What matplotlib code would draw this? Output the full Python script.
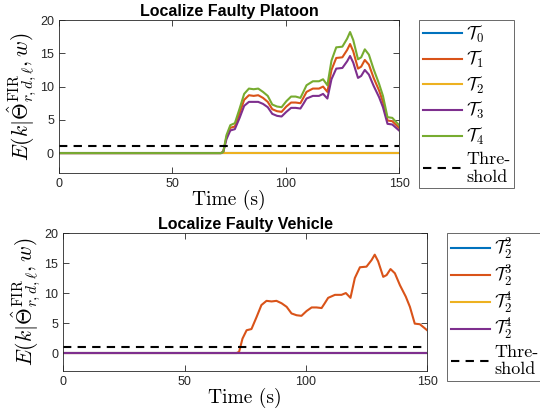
import numpy as np
import matplotlib
matplotlib.use("Agg")
import matplotlib.pyplot as plt
from matplotlib.font_manager import FontProperties

plt.rcParams['mathtext.fontset'] = 'cm'
plt.rcParams['font.family'] = ['Liberation Sans', 'DejaVu Sans']

# time samples (s)
t = [0, 71.5, 72.5, 73.9, 75.6, 77.6, 79.7, 81.7, 83.8, 85.9, 87.9, 90.0, 92.1, 94.1,
     96.2, 98.2, 100.3, 102.4, 104.4, 106.5, 107.8, 109.2, 112.0, 114.7, 116.5, 118.4,
     120.2, 122.3, 125.0, 127.1, 128.4, 129.8, 131.9, 133.3, 134.9, 136.7, 138.8,
     141.2, 142.9, 144.9, 147.0, 150.0]

# residual evaluation per hypothesis
e_T0 = [0.0] * len(t)
e_T1 = [0, 0, 0.2, 2.4, 3.8, 4.0, 6.0, 8.0, 8.7, 8.6, 8.7, 8.3, 7.7, 6.6, 6.3, 6.2,
        7.0, 7.6, 7.6, 7.5, 8.3, 9.2, 9.7, 9.7, 10.0, 9.2, 12.5, 14.3, 14.4, 15.5,
        16.4, 15.3, 12.7, 13.0, 14.0, 13.3, 11.3, 9.4, 7.7, 4.9, 4.8, 3.8]
e_T2 = [0.0] * len(t)
e_T3 = [0, 0, 0.2, 2.1, 3.4, 3.6, 5.3, 7.1, 7.7, 7.7, 7.7, 7.4, 6.9, 5.9, 5.6, 5.5,
        6.2, 6.8, 6.8, 6.7, 7.4, 8.2, 8.6, 8.6, 8.9, 8.2, 11.1, 12.7, 12.8, 13.8,
        14.6, 13.6, 11.3, 11.6, 12.5, 11.8, 10.1, 8.4, 6.9, 4.4, 4.3, 3.4]
e_T4 = [0, 0, 0.2, 2.7, 4.2, 4.5, 6.7, 8.9, 9.7, 9.6, 9.7, 9.2, 8.6, 7.3, 7.0, 6.9,
        7.8, 8.5, 8.5, 8.3, 9.2, 10.2, 10.8, 10.8, 11.1, 10.2, 13.9, 15.9, 16.0, 17.2,
        18.2, 17.0, 14.1, 14.4, 15.6, 14.8, 12.6, 10.4, 8.6, 5.4, 5.3, 4.2]

# vehicle level (platoon 2)
e_v2 = [0.0] * len(t)
e_v3 = e_T1
e_v4a = [0.0] * len(t)
e_v4b = [0.0] * len(t)

threshold = 1.0

top_labels = [r'$\mathcal{T}_0$', r'$\mathcal{T}_1$', r'$\mathcal{T}_2$',
              r'$\mathcal{T}_3$', r'$\mathcal{T}_4$']
bot_labels = [r'$\mathcal{T}_2^2$', r'$\mathcal{T}_2^3$', r'$\mathcal{T}_2^4$',
              r'$\mathcal{T}_2^4$']

colors = ['#0072BD', '#D95319', '#EDB120', '#7E2F8E', '#77AC30']
ylab = r'$E(k|\hat{\Theta}^{\rm FIR}_{r,d,\ell},w)$'
cm = FontProperties(family='cmr10', size=14)
leg_prop = FontProperties(family='cmr10', size=13)


def style_axes(ax, title):
    ax.set_xlim(0, 150)
    ax.set_ylim(-3, 20)
    ax.set_xticks([0, 50, 100, 150])
    ax.set_yticks([0, 5, 10, 15, 20])
    ax.tick_params(direction='in', top=True, right=True, labelsize=9,
                   colors='#262626', length=4, width=0.6)
    for s in ax.spines.values():
        s.set_color('#262626')
        s.set_linewidth(0.6)
    ax.set_title(title, fontsize=11.5, fontweight='bold', pad=3)
    ax.set_xlabel('Time (s)', fontproperties=cm, labelpad=0)
    ax.set_ylabel(ylab, fontsize=15.5, labelpad=1)


fig = plt.figure(figsize=(5.4, 4.18), dpi=100)

# Platoon level
ax1 = fig.add_axes([0.109, 0.586, 0.630, 0.366])
for y, c, lab in zip([e_T0, e_T1, e_T2, e_T3, e_T4], colors, top_labels):
    ax1.plot(t, y, color=c, lw=1.5, label=lab)
ax1.axhline(threshold, color='k', ls='--', lw=1.5, dashes=(4, 3), label='Thre-\nshold')
style_axes(ax1, 'Localize Faulty Platoon')
leg1 = ax1.legend(loc='upper left', bbox_to_anchor=(419 / 540, 1 - 20 / 418),
                  bbox_transform=fig.transFigure, prop=leg_prop, frameon=True,
                  fancybox=False, edgecolor='#262626', handlelength=2.2,
                  labelspacing=0.25, borderpad=0.2, handletextpad=0.2,
                  borderaxespad=0)
leg1.get_frame().set_linewidth(0.6)

# Vehicle level
ax2 = fig.add_axes([0.117, 0.1124, 0.674, 0.330])
for y, c, lab in zip([e_v2, e_v3, e_v4a, e_v4b], colors, bot_labels):
    ax2.plot(t, y, color=c, lw=1.5, label=lab)
ax2.axhline(threshold, color='k', ls='--', lw=1.5, dashes=(4, 3), label='Thre-\nshold')
style_axes(ax2, 'Localize Faulty Vehicle')
leg2 = ax2.legend(loc='upper left', bbox_to_anchor=(447 / 540, 1 - 233 / 418),
                  bbox_transform=fig.transFigure, prop=leg_prop, frameon=True,
                  fancybox=False, edgecolor='#262626', handlelength=2.2,
                  labelspacing=0.1, borderpad=0.2, handletextpad=0.2,
                  borderaxespad=0)
leg2.get_frame().set_linewidth(0.6)

fig.savefig('out.png', dpi=100)
